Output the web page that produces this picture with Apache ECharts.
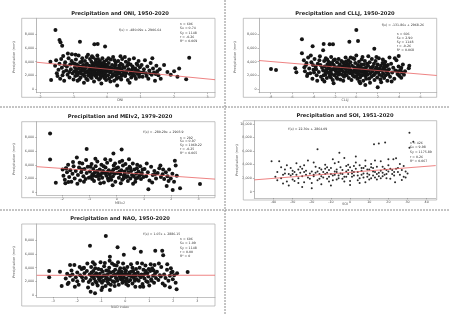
<!DOCTYPE html>
<html><head><meta charset="utf-8">
<script src="https://cdn.jsdelivr.net/npm/echarts@6/dist/echarts.min.js"></script>
<style>html,body{margin:0;padding:0;background:#fff}#c{width:450px;height:314px}</style>
</head><body><div id="c"></div>
<script>
// ---------- data ----------
const titles = ['Precipitation and ONI, 1950-2020','Precipitation and CLLJ, 1950-2020','Precipitation and MEIv2, 1979-2020','Precipitation and SOI, 1951-2020','Precipitation and NAO, 1950-2020'];
const xNames = ['ONI','CLLJ','MEIv2','SOI','NAO index'];
const yName = 'Precipitation (mm)';
const xTicksONI = [-2,-1,0,1,2,3];
const xTicksCLLJ = [-8,-6,-4,-2,0,2,4,6];
const xTicksMEI = [-2,-1,0,1,2,3];
const xTicksSOI = [-40,-30,-20,-10,0,10,20,30,40];
const xTicksNAO = [-3,-2,-1,0,1,2,3];
const yTicks = [0,2000,4000,6000,8000];
const yTicksSOI = [0,2000,4000,6000,8000,10000];
const fitONI = [-480.09, 2906.64];
const fitCLLJ = [-131.86, 2968.26];
const fitMEI = [-280.29, 2903.9];
const fitSOI = [22.30, 2864.09];
const fitNAO = [1.07, 2886.15];
const eqTexts = ['f(x) = -480.09x + 2906.64','f(x) = -131.86x + 2968.26','f(x) = -280.29x + 2903.9','f(x) = 22.30x + 2864.09','f(x) = 1.07x + 2886.15'];
const statsONI = ['n = 606','Sx = 0.74','Sy = 1148','r = -0.26','R\u00b2 = 0.069'];
const statsCLLJ = ['n = 606','Sx = 2.90','Sy = 1148','r = -0.26','R\u00b2 = 0.068'];
const statsMEI = ['n = 292','Sx = 0.97','Sy = 1069.22','r = -0.25','R\u00b2 = 0.065'];
const statsSOI = ['n = 426','Sx = 9.98','Sy = 1175.89','r = 0.26','R\u00b2 = 0.067'];
const statsNAO = ['n = 606','Sx = 1.09','Sy = 1148','r = 0.00','R\u00b2 = 0'];

const oni = [[-1.54,8630],[-1.42,7170],[-1.39,6830],[-1.34,6340],[-0.81,6930],[-0.38,6540],[-0.28,6590],[-0.06,6200],[2.45,4590],[2.36,1410],[-1.67,1320],[-1.69,4000],[-1.31,4830],[2.1,1800],[1.9,2100],[2.0,2600],[1.7,3500],[1.6,1500],[2.15,3000],[1.8,2500],
[-1.55,3400],[-1.5,2300],[-1.48,1900],[-1.45,2800],[-1.42,3700],[-1.4,1500],[-1.37,4400],[-1.35,3100],[-1.3,2500],[-1.28,1200],[-1.25,3900],[-1.22,2700],[-1.2,3300],[-1.18,2100],[-1.15,4500],[-1.12,1700],[-1.1,3600],[-1.08,2900],[-1.05,5100],[-1.03,2300],[-1.0,1400],[-1.02,3800],[-1.13,2500],[-1.27,3500],[-1.52,4200],[-1.33,2000],[-1.17,5200],[-1.06,4100],
[-0.98,2600],[-0.96,3200],[-0.95,1900],[-0.93,4300],[-0.92,2800],[-0.9,3600],[-0.88,1200],[-0.87,2200],[-0.85,4900],[-0.84,3000],[-0.82,2500],[-0.8,3900],[-0.79,1700],[-0.77,3300],[-0.76,2700],[-0.74,4500],[-0.72,2100],[-0.71,3500],[-0.69,900],[-0.68,2900],[-0.66,4100],[-0.65,2400],[-0.63,3100],[-0.62,1500],[-0.6,3700],[-0.59,2600],[-0.57,5000],[-0.56,2000],[-0.54,3400],[-0.53,2800],[-0.51,4400],[-0.5,1800],[-0.97,3700],[-0.91,2400],[-0.86,3400],[-0.78,2300],[-0.73,3000],[-0.67,1900],[-0.61,4700],[-0.55,2300],[-0.94,5000],[-0.83,1400],[-0.75,4000],[-0.64,3500],[-0.58,1300],[-0.52,2600],[-0.89,2000],[-0.7,2700],
[-0.49,3200],[-0.48,2400],[-0.47,4000],[-0.46,1600],[-0.45,2900],[-0.44,3600],[-0.43,2100],[-0.42,4600],[-0.41,2700],[-0.4,3300],[-0.39,1100],[-0.38,2500],[-0.37,3800],[-0.36,2000],[-0.35,3000],[-0.34,4300],[-0.33,2300],[-0.32,3500],[-0.31,1700],[-0.3,2800],[-0.29,4900],[-0.28,2200],[-0.27,3200],[-0.26,2600],[-0.25,3900],[-0.24,1400],[-0.23,3000],[-0.22,2400],[-0.21,4100],[-0.2,2000],[-0.19,3400],[-0.18,2700],[-0.17,800],[-0.16,3700],[-0.15,2300],[-0.14,4500],[-0.13,2900],[-0.12,1900],[-0.11,3300],[-0.1,2500],[-0.09,4000],[-0.08,1600],[-0.07,3100],[-0.06,2200],[-0.05,3600],[-0.04,2800],[-0.03,1300],[-0.02,4200],[-0.01,2600],[0,3400],[-0.47,2000],[-0.43,3000],[-0.36,2900],[-0.33,1900],[-0.27,4400],[-0.22,3500],[-0.18,2000],[-0.12,3700],[-0.07,2400],[-0.03,3000],[-0.45,4800],[-0.31,3900],[-0.2,1600],[-0.1,2900],[-0.4,2200],[-0.25,2300],[-0.15,3100],[-0.05,1800],
[0.02,2900],[0.03,2000],[0.05,3800],[0.06,1500],[0.08,3200],[0.09,2400],[0.11,4300],[0.12,2700],[0.14,1800],[0.15,3500],[0.17,2200],[0.18,4700],[0.2,2900],[0.21,1200],[0.23,3300],[0.24,2500],[0.26,3900],[0.27,2000],[0.29,3000],[0.3,500],[0.32,2600],[0.33,4100],[0.35,1700],[0.36,3400],[0.38,2300],[0.39,2900],[0.41,3700],[0.42,1400],[0.44,2700],[0.45,4400],[0.47,2100],[0.48,3200],[0.5,2500],[0.07,2600],[0.13,3000],[0.19,2000],[0.25,3600],[0.31,2200],[0.37,3100],[0.43,1900],[0.1,1100],[0.22,4200],[0.34,2800],[0.46,3500],[0.16,2800],[0.28,1500],[0.4,4800],[0.04,4500],
[0.52,3100],[0.54,1900],[0.56,4000],[0.58,2600],[0.6,3400],[0.62,1300],[0.64,2900],[0.66,4300],[0.68,2200],[0.7,3600],[0.72,1700],[0.74,2800],[0.76,3300],[0.78,2000],[0.8,4500],[0.82,2500],[0.84,3000],[0.86,1500],[0.88,3700],[0.9,2300],[0.92,2700],[0.94,4100],[0.96,1800],[0.98,3200],[1.0,2400],[0.57,2300],[0.63,3800],[0.71,2500],[0.79,3000],[0.87,2600],[0.95,2100],[0.53,4700],[0.67,900],[0.83,1900],[0.91,3500],[0.75,2200],
[1.03,3500],[1.06,1800],[1.1,2900],[1.13,4200],[1.16,2300],[1.2,3300],[1.23,1500],[1.26,2700],[1.3,3800],[1.33,2100],[1.37,3000],[1.4,2400],[1.43,1200],[1.47,3400],[1.5,2600],[1.53,2000],[1.57,2900],[1.08,2400],[1.18,1900],[1.28,2300],[1.35,4500],[1.45,2200]];

const cllj = [[0,8630],[0.16,7020],[-0.65,6930],[-5.08,7270],[-4.08,6240],[-3.05,6590],[-2.49,6540],[-2.18,6540],[-3.1,5660],[1.68,5900],[3.96,4830],[-7.97,2930],[-7.5,2780],[-5.7,3020],[-5.6,2440],[-5.08,5220],[4.95,3410],[4.9,3020],[3.96,2050],[4.2,1660],[2.0,240],[0.84,590],[0.37,830],[-2.12,830],
[-4.9,4200],[-4.8,2600],[-4.7,3500],[-4.6,1900],[-4.5,4600],[-4.4,3000],[-4.3,2300],[-4.2,3900],[-4.1,1500],[-4.0,2800],[-3.9,4400],[-3.8,3300],[-3.7,2000],[-3.6,3700],[-3.5,2500],[-3.4,4800],[-3.3,1800],[-3.2,3100],[-3.1,2700],[-3.0,4100],[-4.85,3200],[-4.55,2200],[-4.25,4900],[-3.95,2400],[-3.65,1200],[-3.35,3500],[-3.05,2000],[-4.65,3800],[-4.05,3500],[-3.45,4200],[-3.15,1400],[-3.75,2900],
[-2.95,3300],[-2.9,2100],[-2.85,4500],[-2.8,2800],[-2.75,1600],[-2.7,3600],[-2.65,2400],[-2.6,4000],[-2.55,3000],[-2.5,1900],[-2.45,3400],[-2.4,2600],[-2.35,4700],[-2.3,2200],[-2.25,3800],[-2.2,1300],[-2.15,2900],[-2.1,3500],[-2.05,2000],[-2.0,4300],[-1.95,2700],[-1.9,3200],[-1.85,1700],[-1.8,3900],[-1.75,2500],[-1.7,3000],[-1.65,4400],[-1.6,2300],[-1.55,3600],[-1.5,1400],[-1.45,2800],[-1.4,4100],[-1.35,2100],[-1.3,3300],[-1.25,2600],[-1.2,3800],[-1.15,1800],[-1.1,3100],[-1.05,2400],[-1.0,4600],[-2.88,2500],[-2.62,3200],[-2.38,1700],[-2.12,4200],[-1.88,2300],[-1.62,3300],[-1.38,2900],[-1.12,2000],[-2.72,4300],[-2.28,2900],[-1.78,1500],[-1.32,4000],[-2.52,2300],[-2.02,3100],[-1.52,2700],[-1.08,3500],[-2.98,1100],[-1.68,2100],[-2.42,3800],[-1.22,1200],
[-0.95,2900],[-0.9,2000],[-0.85,3700],[-0.8,2500],[-0.75,4200],[-0.7,1600],[-0.65,3100],[-0.6,2300],[-0.55,3900],[-0.5,2700],[-0.45,1300],[-0.4,3400],[-0.35,2100],[-0.3,4500],[-0.25,2600],[-0.2,3200],[-0.15,1800],[-0.1,3800],[-0.05,2400],[0,4900],[0.05,2800],[0.1,1500],[0.15,3500],[0.2,2200],[0.25,4000],[0.3,2900],[0.35,1700],[0.4,3300],[0.45,2500],[0.5,4300],[0.55,2000],[0.6,3000],[0.65,1200],[0.7,3600],[0.75,2600],[0.8,4100],[0.85,1900],[0.9,3200],[0.95,2400],[1.0,3700],[-0.88,3300],[-0.62,2800],[-0.38,2500],[-0.12,2900],[0.12,3100],[0.38,2000],[0.62,2600],[0.88,2900],[-0.72,3600],[-0.28,1900],[0.18,2600],[0.72,2200],[-0.52,4600],[0.02,1900],[0.48,3600],[0.92,1500],[-0.98,4000],[0.28,1100],[-0.18,4400],[0.58,4700],
[1.05,2100],[1.1,3400],[1.15,2700],[1.2,1500],[1.25,3900],[1.3,2300],[1.35,3100],[1.4,1800],[1.45,4400],[1.5,2600],[1.55,3300],[1.6,2000],[1.65,3700],[1.7,1300],[1.75,2900],[1.8,4100],[1.85,2400],[1.9,3200],[1.95,1700],[2.0,3600],[2.05,2500],[2.1,4500],[2.15,2100],[2.2,3000],[2.25,1400],[2.3,3400],[2.35,2700],[2.4,1900],[2.45,3800],[2.5,2300],[2.55,3100],[2.6,1600],[2.65,2800],[2.7,4000],[2.75,2000],[2.8,3300],[2.85,2500],[2.9,1200],[2.95,3500],[3.0,2200],[1.12,4800],[1.42,2900],[1.72,2200],[2.02,2800],[2.32,1000],[2.62,3600],[2.92,2700],[1.28,900],[1.88,4700],[2.48,4300],
[3.05,2900],[3.15,1800],[3.25,3700],[3.35,2400],[3.45,3100],[3.55,1500],[3.65,2700],[3.75,4200],[3.85,2200],[3.95,3300],[4.05,1900],[4.15,2800],[4.25,2400],[4.35,3600],[4.45,2100],[4.55,2600],[3.3,1100],[3.6,4500],[3.9,2600],[4.2,3100],[3.1,4600]];

const mei = [[-2.44,8585],[-2.44,4780],[-2.23,1370],[-1.1,6340],[-0.12,5660],[0.18,6240],[2.13,4590],[3.05,1170],[2.32,540],[2.05,290],[1.16,390],[1.83,880],[-1.77,1460],[-1.46,5070],[-1.85,3460],
[-1.98,3300],[-1.95,2400],[-1.9,1800],[-1.86,3500],[-1.82,2900],[-1.78,4000],[-1.74,2200],[-1.7,3200],[-1.66,1500],[-1.62,2700],[-1.58,3800],[-1.54,2000],[-1.5,3100],[-1.42,2500],[-1.38,3600],[-1.34,1700],[-1.3,2900],[-1.26,4200],[-1.22,2300],[-1.18,3400],[-1.14,1900],[-1.1,2800],[-1.06,3700],[-1.02,2100],[-1.88,1300],[-1.6,4400],[-1.44,1200],[-1.28,3300],[-1.12,4700],[-1.2,1500],[-1.36,4300],
[-0.98,3000],[-0.95,2200],[-0.92,4100],[-0.89,2600],[-0.86,3400],[-0.83,1600],[-0.8,2900],[-0.77,3800],[-0.74,2300],[-0.71,4500],[-0.68,2700],[-0.65,1900],[-0.62,3300],[-0.59,2500],[-0.56,4000],[-0.53,2100],[-0.5,3100],[-0.47,1400],[-0.44,2800],[-0.41,3600],[-0.38,2400],[-0.35,4300],[-0.32,2000],[-0.29,3200],[-0.26,2600],[-0.23,4700],[-0.2,1800],[-0.17,3000],[-0.14,2300],[-0.11,3900],[-0.08,2700],[-0.05,1500],[-0.02,3500],[-0.96,3700],[-0.84,2400],[-0.72,3100],[-0.6,1300],[-0.48,3800],[-0.36,2900],[-0.24,2100],[-0.12,3300],[-0.9,1900],[-0.66,2400],[-0.42,4800],[-0.18,2900],[-0.78,4900],[-0.54,2800],[-0.3,1700],[-0.06,4200],[-0.15,1000],
[0.02,2800],[0.05,3600],[0.08,2100],[0.11,4400],[0.14,2600],[0.17,3200],[0.2,1800],[0.23,3900],[0.26,2400],[0.29,3000],[0.32,4100],[0.35,2200],[0.38,3400],[0.41,1600],[0.44,2900],[0.47,3700],[0.5,2000],[0.53,3100],[0.56,2500],[0.59,4200],[0.62,2300],[0.65,3300],[0.68,1500],[0.71,2700],[0.74,3500],[0.77,2100],[0.8,3000],[0.83,2400],[0.86,3800],[0.89,1900],[0.92,2800],[0.95,3300],[0.98,2200],[0.1,3000],[0.3,2700],[0.5,3500],[0.7,2000],[0.9,2600],[0.2,4600],[0.4,2300],[0.6,1200],[0.15,1300],[0.45,4800],[0.75,4000],[0.25,2000],
[1.02,3400],[1.08,2300],[1.14,2900],[1.2,1700],[1.26,3700],[1.32,2500],[1.38,3100],[1.44,2000],[1.5,2800],[1.56,3500],[1.62,2200],[1.68,2600],[1.74,1900],[1.8,2900],[1.86,2300],[1.92,3300],[1.98,2000],[2.04,2700],[2.1,1500],[2.16,3900],[1.1,4200],[1.3,1400],[1.6,3900],[1.9,1600],[2.2,2400],[1.4,2600],[1.7,3300]];

const soi = [[-41,4500],[-37,4500],[-39,2200],[-38,1700],[-36,3600],[-35,1200],[-34,2700],[-33,3900],[-32,900],[-31,2400],[-30,3100],[-29,1600],[-28,4200],[-27,2000],[-26,2800],[-25,3400],[-24,1400],[-23,2500],[-22,4600],[-21,1900],[-20,3000],[-19,2300],[-18,3700],[-17,6260],[-17,1700],[-16,2600],[-15,3300],[-14,2100],[-13,4000],[-12,2800],[-11,1500],[-10,3500],[-9,2400],[-8,3000],[-7,1800],[-6,4400],[-5.6,5760],[-5,2700],[-4,3200],[-3,2200],[-2,3800],[-1,2600],[0,1600],[1,3100],[2,2400],[3,4300],[4,2900],[5,2000],[6,3500],[7,2700],[8,1400],[9,3300],[10,2500],[11,4100],[12,3000],[12.5,7000],[13,2100],[14,3700],[15,7140],[15,2800],[16,4500],[17,2300],[18,3400],[18.3,7290],[19,2600],[20,3900],[21,1900],[22,3200],[22.6,4780],[23,2900],[23.5,1380],[24,4930],[25,3500],[26,2500],[27,1720],[28,3800],[29,3000],[30,2700],[31,8720],[31,6500],[33,7390],
[-38,2900],[-36,2000],[-34,3300],[-32,2600],[-30,1800],[-28,2500],[-26,3700],[-24,2900],[-22,2100],[-20,1300],[-18,2800],[-16,3500],[-14,2900],[-12,1900],[-10,2600],[-8,4200],[-6,2000],[-4,2600],[-2,3000],[0,3600],[2,2900],[4,1700],[6,2500],[8,3800],[10,3300],[12,2400],[14,1800],[16,3100],[18,2500],[20,3000],[22,2600],[24,3400],[26,4100],[28,2200],
[-35,2500],[-33,1500],[-31,3500],[-29,2900],[-27,3300],[-25,2300],[-23,3100],[-21,2700],[-19,4300],[-17,3000],[-15,2300],[-13,2600],[-11,3200],[-9,1700],[-7,2900],[-5,3600],[-3,1500],[-1,4000],[1,2200],[3,3400],[5,3900],[7,2100],[9,2700],[11,3600],[13,4600],[15,2300],[17,3700],[19,2000],[21,3400],[23,2400],[25,2900],[27,3200],[29,2100],
[-25,700],[-20,500],[-10,900],[0,1000],[5,1300],[-15,1100],[10,1800],[20,4800],[-9,4800],[-3,5000],[3,5200],[8,4600],[-13,3400],[-7,3300],[-1,3200],[6,3100],[14,2600],[-24,3900],[-19,2500],[-12,3600],[-6,2400],[1,2700],[7,3500],[13,2900],[19,3200],[-11,2200],[-4,1900],[4,2400],[11,2000],[17,2800],[-30,2600],[-27,1300],[-16,1900],[-2,2200],[9,2200],[16,2000],[-8,2500],[2,3800],[12,3500]];

const nao = [[-0.81,8634],[-1.47,7220],[-0.32,6980],[0.375,6830],[-0.06,5900],[-0.64,5610],[0.65,6340],[1.25,6490],[1.54,6490],[1.58,5800],[2.6,3370],[-3.17,3510],[-3.17,2590],[-2.65,1320],[-1.44,490],[-1.26,240],[-0.99,730],[-0.64,730],[1.86,1120],[2.14,830],[0.75,1220],[-2.72,3410],[-2.3,4390],[-1.75,3900],[1.97,3410],
[-2.48,2400],[-2.42,3100],[-2.36,1800],[-2.3,2800],[-2.24,3600],[-2.18,2200],[-2.12,4400],[-2.06,2600],[-2.0,3300],[-1.94,1500],[-1.88,2900],[-1.82,3800],[-1.76,2100],[-1.7,3200],[-1.64,2500],[-1.58,4600],[-1.52,1900],[-2.4,1600],[-2.2,3000],[-2.0,2000],[-1.8,2600],[-1.6,3500],[-1.9,4100],[-2.1,1200],[-1.55,1100],[-1.72,4000],
[-1.48,3000],[-1.45,2200],[-1.42,4100],[-1.39,2700],[-1.36,1600],[-1.33,3500],[-1.3,2400],[-1.27,4500],[-1.24,2000],[-1.21,3200],[-1.18,2800],[-1.15,1400],[-1.12,3800],[-1.09,2300],[-1.06,3100],[-1.03,4800],[-1,2600],[-0.97,1800],[-0.94,3400],[-0.91,2100],[-0.88,4200],[-0.85,2900],[-0.82,1300],[-0.79,3600],[-0.76,2500],[-0.73,3000],[-0.7,1700],[-0.67,4000],[-0.64,2300],[-0.61,3300],[-0.58,2700],[-0.55,4600],[-0.52,2000],[-1.4,3300],[-1.2,1800],[-1.0,3700],[-0.8,2400],[-0.6,1500],[-1.3,2900],[-1.1,2600],[-0.9,2800],[-0.7,3500],[-1.25,3900],[-0.95,1100],[-0.65,5000],[-1.05,2100],[-0.75,2000],[-0.5,3400],[-1.35,4800],[-0.85,4700],
[-0.48,2900],[-0.45,1900],[-0.42,3700],[-0.39,2500],[-0.36,4300],[-0.33,2100],[-0.3,3200],[-0.27,1500],[-0.24,2800],[-0.21,3900],[-0.18,2300],[-0.15,3400],[-0.12,1800],[-0.09,4600],[-0.06,2600],[-0.03,3000],[0,2000],[0.03,3600],[0.06,2400],[0.09,4100],[0.12,1400],[0.15,2900],[0.18,3300],[0.21,2200],[0.24,4500],[0.27,2700],[0.3,1700],[0.33,3500],[0.36,2500],[0.39,3100],[0.42,1200],[0.45,3800],[0.48,2300],[-0.4,3000],[-0.2,2600],[0,3400],[0.2,2800],[0.4,2100],[-0.3,4800],[-0.1,2200],[0.1,3000],[0.3,4000],[-0.44,1300],[-0.16,3000],[0.14,2000],[0.44,2800],[-0.26,3500],[0.04,1600],[0.34,2900],[-0.05,3900],[0.25,3400],[-0.35,2400],[0.5,4700],[-0.46,4400],
[0.52,3300],[0.56,2100],[0.6,4000],[0.64,2600],[0.68,3000],[0.72,1600],[0.76,3700],[0.8,2400],[0.84,4300],[0.88,2000],[0.92,3200],[0.96,2700],[1.0,1400],[1.04,3500],[1.08,2300],[1.12,3900],[1.16,2800],[1.2,1800],[1.24,3100],[1.28,2500],[0.58,2900],[0.7,4600],[0.82,3100],[0.94,1900],[1.06,4500],[1.18,3600],[0.62,1200],[0.86,3500],[1.1,2100],[0.74,2800],[0.98,3800],[1.22,4400],
[1.32,3400],[1.38,2200],[1.44,2900],[1.5,4100],[1.56,1700],[1.62,3000],[1.68,2500],[1.74,3700],[1.8,2100],[1.86,2800],[1.92,3300],[1.98,2300],[2.04,2900],[2.1,1800],[2.16,3200],[1.4,4600],[1.65,1400],[1.9,3900],[1.48,2700],[1.75,4500]];

// ---------- layout (positions / styles only) ----------
const data = [oni, cllj, mei, soi, nao];
const fits = [fitONI, fitCLLJ, fitMEI, fitSOI, fitNAO];
const stats = [statsONI, statsCLLJ, statsMEI, statsSOI, statsNAO];
const xTicks = [xTicksONI, xTicksCLLJ, xTicksMEI, xTicksSOI, xTicksNAO];
const yTickSets = [yTicks, yTicks, yTicks, yTicksSOI, yTicks];
const L = [
 {l:36.7,t:18.3,r:215,b:92.7, xr:[-2.1,3.22], yr:[-541,10344], frame:[21.7,18.3,215,97.3], title:[120,14], xn:[120,100.5], yn:[14,57], eq:[119,30], st:[180,24.3], sh:4.3, size:4},
 {l:259,t:18.3,r:436.7,b:92.7, xr:[-9.09,7.51], yr:[-541,10344], frame:[243.3,18.3,436.7,97.3], title:[345,14], xn:[345,100.5], yn:[235,57], eq:[381.7,25], st:[396.7,34.3], sh:4.0, size:4},
 {l:36.7,t:121.7,r:215,b:195, xr:[-2.93,3.6], yr:[-441,10338], frame:[21.7,121.7,215,197.7], title:[120,116.7], xn:[120,203.5], yn:[14,159], eq:[143.3,132.3], st:[180,137.7], sh:3.8, size:4},
 {l:254.3,t:120.7,r:435.7,b:198, xr:[-50,44.7], yr:[-931,10495], frame:[243.3,120.7,436.7,200], title:[345,115.7], xn:[345,204], yn:[237,160], eq:[288.3,129], st:[410,142.7], sh:4.7, size:2},
 {l:36.7,t:224,r:215,b:297, xr:[-3.69,3.74], yr:[-293,10388], frame:[21.7,224,215,306], title:[120,219], xn:[120,307.5], yn:[14,262], eq:[143.3,234.3], st:[180,239.3], sh:4.2, size:4}
];

const grid=[], xAxis=[], yAxis=[], series=[], graphic=[];
const FF = '"DejaVu Sans", sans-serif';
L.forEach((p,i)=>{
  grid.push({left:p.l, top:p.t, width:p.r-p.l, height:p.b-p.t, containLabel:false});
  xAxis.push({type:'value', gridIndex:i, min:p.xr[0], max:p.xr[1],
    axisLine:{show:true, onZero:false, lineStyle:{color:'#999', width:0.6}},
    axisTick:{show:true, customValues:xTicks[i], length:1.5, lineStyle:{color:'#777', width:0.5}},
    axisLabel:{customValues:xTicks[i], fontSize:3.3, color:'#444', margin:2.5, fontFamily:FF},
    splitLine:{show:false}});
  yAxis.push({type:'value', gridIndex:i, min:p.yr[0], max:p.yr[1],
    axisLine:{show:true, onZero:false, lineStyle:{color:'#888', width:0.6}},
    axisTick:{show:true, customValues:yTickSets[i], length:1.5, lineStyle:{color:'#777', width:0.5}},
    axisLabel:{customValues:yTickSets[i], fontSize:3.3, color:'#444', margin:2.5, fontFamily:FF},
    splitLine:{show:false}});
  series.push({type:'scatter', xAxisIndex:i, yAxisIndex:i, data:data[i], symbolSize:p.size,
    itemStyle:{color: i===3 ? '#2a2a2a' : '#151515', opacity:1}, silent:true, z:2});
  const f = fits[i];
  series.push({type:'line', xAxisIndex:i, yAxisIndex:i, data:[[p.xr[0], f[0]*p.xr[0]+f[1]],[p.xr[1], f[0]*p.xr[1]+f[1]]],
    symbol:'none', lineStyle:{color:'#e85c5c', width:0.9, opacity:0.85}, silent:true, z:3});
  graphic.push({type:'rect', shape:{x:p.frame[0], y:p.frame[1], width:p.frame[2]-p.frame[0], height:p.frame[3]-p.frame[1]},
    style:{fill:'none', stroke:'#aaa', lineWidth:0.7}, silent:true, z:1});
  graphic.push({type:'text', x:p.title[0], y:p.title[1], style:{text:titles[i], font:'bold 5.2px '+FF, fill:'#222', align:'center', verticalAlign:'middle', textAlign:'center', textVerticalAlign:'middle'}});
  graphic.push({type:'text', x:p.xn[0], y:p.xn[1], style:{text:xNames[i], font:'3.4px '+FF, fill:'#555', align:'center', verticalAlign:'middle', textAlign:'center', textVerticalAlign:'middle'}});
  graphic.push({type:'text', x:p.yn[0], y:p.yn[1], rotation:Math.PI/2, style:{text:yName, font:'3.4px '+FF, fill:'#555', align:'center', verticalAlign:'middle', textAlign:'center', textVerticalAlign:'middle'}});
  graphic.push({type:'text', x:p.eq[0], y:p.eq[1], style:{text:eqTexts[i], font:'3.2px '+FF, fill:'#333', align:'left', verticalAlign:'middle', textAlign:'left', textVerticalAlign:'middle'}});
  stats[i].forEach((s,k)=>{
    graphic.push({type:'text', x:p.st[0], y:p.st[1]+k*p.sh, style:{text:s, font:'3.2px '+FF, fill:'#333', align:'left', verticalAlign:'middle', textAlign:'left', textVerticalAlign:'middle'}});
  });
});
// separators
const dash = {stroke:'#8a8a8a', lineWidth:1, lineDash:[2,1]};
graphic.push({type:'line', shape:{x1:225, y1:0, x2:225, y2:314}, style:dash, silent:true});
graphic.push({type:'line', shape:{x1:0, y1:107, x2:450, y2:107}, style:dash, silent:true});
graphic.push({type:'line', shape:{x1:0, y1:210, x2:450, y2:210}, style:dash, silent:true});

const chart = echarts.init(document.getElementById('c'), null, {renderer:'canvas'});
chart.setOption({animation:false, backgroundColor:'#fff', grid, xAxis, yAxis, series, graphic});
</script></body></html>
